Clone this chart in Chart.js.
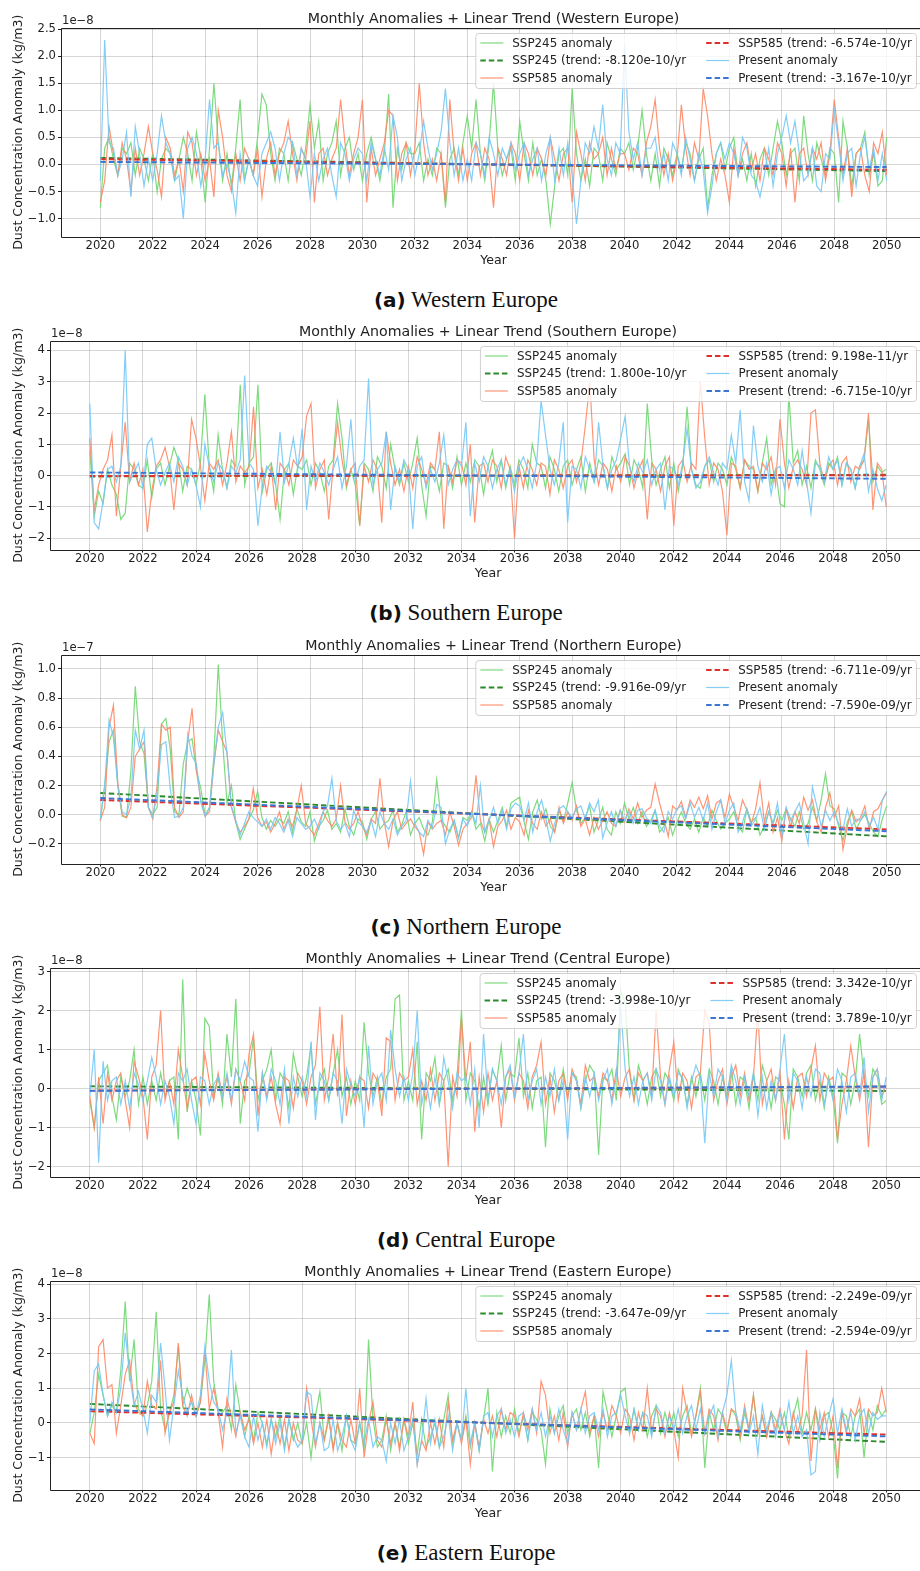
<!DOCTYPE html>
<html>
<head>
<meta charset="utf-8">
<title>Monthly dust concentration anomalies</title>
<script src="https://cdn.jsdelivr.net/npm/chart.js@4.4.1/dist/chart.umd.min.js"></script>
<style>
  html, body { margin: 0; padding: 0; background: #fff; overflow: hidden; }
  #page { position: relative; width: 920px; height: 1571px; overflow: hidden; }
  .panel { position: absolute; left: 0; }
  .caption {
    position: absolute; left: 0; width: 932px; text-align: center;
    font-family: "Liberation Serif", serif; font-size: 23px; line-height: 24px; color: #111;
  }
  .caption b { font-family: "DejaVu Sans", sans-serif; font-size: 20px; }
</style>
</head>
<body>
<div id="page"></div>
<script>
// Anomalies in ug/m3 (1e-9 kg/m3), one value every two months from Jan 2020 to Jan 2050
const firstYear = 2020;
const lastYear = 2050;
const midYear = 2035;
const sampleStep = 1 / 6;
const slopeSpan = 10;   // years covered by one unit of the quoted slope

const yearTicks = [2020, 2022, 2024, 2026, 2028, 2030, 2032, 2034, 2036, 2038, 2040, 2042, 2044, 2046, 2048, 2050];

// ---- Western Europe ----
const westSsp245 = [
  -8, 3, 5, 1, -2, 3,  2, 4, -2, 3, 1, -3,  2, -5, 1, 3, 2, -3,  1, 5, 2, -3, 6, 1,
  -7, 3, 15, 4, -3, 2,  -4, 3, 12, -3, 1, -2,  5, 13, 11, 2, -3, 3,  2, -3, 4, 1, -2, 3,
  11, 3, 8, -3, 2, 4,  8, -2, 3, 5, -1, 2,  -3, 2, 5, 1, -3, 2,  13, -8, 3, -1, 4, 2,
  2, 4, -3, 1, -2, 3,  2, -8, 1, 3, -2, 4,  9, 3, 12, 2, -3, 4,  15, 3, -2, 1, 3, -3,
  8, 2, -3, 4, -2, 1,  -3, -11, -4, 2, 3, -2,  14, 2, -3, 1, -4, 3,  2, -3, 4, 1, -2, 3,
  2, 4, -1, 3, 10, 2,  -3, 2, -4, 3, 1, -2,  2, -1, 4, 2, -3, 1,  3, -8, -2, 2, 4, -1,
  3, 5, -2, 1, -3, 2,  -4, 1, 3, -2, 3, 8,  4, -2, 2, 3, -3, 9,  2, -3, 4, 1, -2, 3,
  2, -7, 8, 3, -4, 2,  3, 6, -2, 2, -4, -3,  5
];
const westSsp585 = [
  -7, -3, 7, 2, -2, 4,  1, -5, 3, -2, 2, 7,  2, -1, -6, 5, 3, -2,  1, -5, 6, 4, -2, 2,
  -3, 1, -6, 10, 5, -2,  -5, 2, -3, 3, 1, -2,  3, -6, 1, 4, -2, 2,  4, 8, 2, -3, 3, 1,
  8, -7, 2, 3, -2, 1,  3, 12, 4, -2, 2, 5,  12, -7, 3, -2, 1, 4,  10, 9, -3, 2, 4, -2,
  3, 15, 4, -2, 1, -3,  2, -7, 12, 2, -3, 3,  -3, 2, 4, -2, 3, 1,  -8, 3, 1, -2, 4, 2,
  -3, 4, 2, -2, 3, 1,  -2, 5, 1, -3, 2, 3,  -7, 6, 2, -3, 4, 1,  2, 5, -2, 3, -1, 2,
  2, -1, 3, 2, -2, 4,  7, 12, 3, -2, 2, -3,  1, 11, 3, -2, 4, 1,  14, 9, 2, -3, 1, -2,
  -7, 3, -2, 2, 4, -1,  2, -3, 3, 1, -2, 4,  2, -4, 3, -7, 2, 3,  -2, 3, 1, 4, -3, 2,
  12, 5, -2, 3, -6, 2,  3, -2, -5, 4, 2, 6,  -2
];
const westPresent = [
  -3, 23, 4, 3, -2, 1,  6, -6, 7, 2, -4, 1,  -3, 2, 9, 4, 2, -3,  -2, -10, 3, 5, 2, -4,
  1, 12, 3, 4, -2, 0,  -3, -9, 2, -3, 1, -2,  -4, 2, 4, 6, 3, -3,  2, 5, 4, -2, 3, 1,
  -6, 2, -3, 1, 3, -2,  -6, 4, 2, -3, 1, 3,  2, -3, 4, 1, -2, 3,  -1, 9, 5, -3, 1, 3,
  -2, 2, 8, 3, -1, 2,  6, 14, 4, -2, 3, -3,  1, -3, 4, 2, -2, 5,  2, -2, 3, 1, 4, -1,
  2, 4, -2, 1, 3, -3,  2, 5, -3, 3, -2, 4,  -2, -11, -3, 4, 2, 7,  3, 11, 1, -2, 4, 2,
  22, 6, 1, 4, -2, 3,  3, 5, -1, 2, -3, 4,  2, -2, 5, 1, -3, 2,  -1, -9, -4, 2, 4, 1,
  4, 2, -2, 5, 3, -2,  -3, -6, -2, 3, -4, 2,  5, 9, 4, 8, 2, -3,  -2, 3, -4, -5, 2, 1,
  10, 4, -3, 2, 3, -4,  2, 5, -1, 3, -3, 2,  -3
];
const westSlopes = [-8.120e-10, -6.574e-10, -3.167e-10];
const westTicks = [-1.0, -0.5, 0.0, 0.5, 1.0, 1.5, 2.0, 2.5];

// ---- Southern Europe ----
const southSsp245 = [
  8, -13, -5, -9, 2, -3,  -6, -14, -12, 4, 2, -3,  -4, 5, -7, 2, 4, -3,  3, 9, 5, -5, 3, 2,
  -3, 4, 26, 3, -5, 13,  2, -4, 5, 3, 29, -3,  4, 6, 29, -5, 2, 4,  -3, -14, 2, 4, -6, 3,
  2, 5, -3, 4, 1, -5,  3, 5, 23, 12, -4, 2,  -3, -16, 4, 2, -5, 6,  3, -4, 10, 2, -3, 4,
  -2, 4, 12, -3, -13, 3,  2, -5, 4, 3, -4, 6,  -3, 4, -2, 5, 3, -6,  3, 8, -2, 5, -4, 3,
  -3, 5, 2, -4, 10, 4,  3, -4, 6, 2, -5, 3,  5, -3, 2, 6, -5, 4,  -2, 5, 3, -4, 6, 2,
  4, 7, -3, 5, 2, -4,  23, 5, -3, 2, 6, -4,  4, -5, 3, 22, 2, -3,  -4, 3, 5, -2, 4, 2,
  -3, 6, 2, -4, 5, 3,  2, -5, 4, 12, -3, 2,  -9, -10, 26, 4, 8, -3,  3, -4, 5, 2, -3, 4,
  2, 6, -3, 4, 2, -4,  3, 5, 18, -2, 3, 1,  2
];
const southSsp585 = [
  12, -11, -3, 2, 5, 13,  -13, 3, 17, -2, 4, -3,  2, -18, -5, 3, 5, 9,  3, -11, 4, 2, -3, 18,
  12, 3, -8, 4, 2, 5,  -3, 4, 14, -2, 3, 1,  3, 22, -4, 2, -6, 3,  -11, 4, 2, -3, 5, 3,
  6, 19, 23, -4, 2, 5,  -14, 3, 17, 5, -3, 2,  4, -16, 3, -2, 5, 2,  -15, 14, 4, -3, 2, -5,
  3, -4, 6, 2, -3, 4,  2, 14, -17, 3, -2, 5,  4, -3, 10, -15, 3, 4,  -2, 5, 3, -4, 6, 2,
  -20, 3, -4, 5, 2, -3,  4, 3, -6, 5, 2, -4,  3, 5, -2, 4, 16, 30,  5, -3, 4, 2, -5, 3,
  -2, 6, 3, -4, 2, 5,  -14, 4, 2, -5, 3, 6,  -16, 3, 5, -2, 4, 2,  30, 12, -3, 4, 2, -5,
  -19, 4, 3, -4, 5, 2,  3, -5, 4, 2, 6, -3,  18, 4, -4, 3, 5, 2,  -3, 20, 21, 4, -2, 3,
  5, -3, 4, 6, -2, 3,  2, 5, 20, -11, 4, 2,  -10
];
const southPresent = [
  23, -15, -17, -8, 2, 3,  -2, 3, 40, -2, 1, 4,  -4, 10, 12, 2, -3, 1,  4, -2, 6, 3, -3, 2,
  -3, -10, 10, 3, -2, 4,  2, -4, 3, 1, 5, 32,  4, 2, -16, -3, 3, 1,  -3, 14, -2, 4, 12, 2,
  15, -11, 3, -2, 4, 1,  -3, 2, 6, -4, 3, 18,  -2, 3, 5, 31, -3, 2,  4, 14, -11, 3, -2, 5,
  2, -17, 3, 6, -4, 2,  -2, 4, 13, -3, 2, 5,  3, 17, -13, 4, -2, 6,  3, -4, 2, 5, -3, 2,
  -5, 3, 6, 2, -4, 4,  24, 13, 2, -3, 4, 17,  -15, 3, 2, -4, 6, 2,  -2, 17, 3, -4, 2, 5,
  12, 19, 3, -2, 4, 1,  5, -3, 2, 4, -11, 3,  2, -3, 4, 15, 2, -4,  -2, 3, 6, 1, -3, 4,
  2, 13, 4, 21, -2, -8,  16, 3, -2, 4, -6, 2,  3, -4, 5, 2, -3, 8,  -2, -12, 4, 3, -2, 6,
  2, 5, -3, 4, 2, -4,  3, 7, -5, 2, -4, -8,  -3
];
const southSlopes = [1.800e-10, 9.198e-11, -6.715e-10];
const southTicks = [-2, -1, 0, 1, 2, 3, 4];

// ---- Northern Europe ----
const northSsp245 = [
  -4, 20, 50, 58, 20, -1,  -2, 30, 88, 50, 42, 5,  0, 5, 62, 66, 45, 2,  0, 35, 50, 52, 30, 18,
  -1, 5, 40, 103, 50, 8,  20, -5, -17, -10, -3, 3,  16, -2, -10, -4, -8, -3,  -6, 2, -12, 4, -5, -8,
  2, -18, -8, -4, 3, -10,  -6, -12, 4, -8, -14, -3,  -5, -17, -3, 2, -10, -6,  -4, 3, -12, -7, 2, -14,
  -6, -2, -10, -14, -5, 24,  -3, -8, -12, -4, -16, -2,  -4, 2, -10, -6, -18, -3,  -12, -4, 5, -8, 8, 10,
  12, -5, -17, 2, 10, -3,  4, -8, -12, 3, -5, 8,  22, 3, -6, -2, 6, -12,  -4, 5, -10, -14, 2, -6,
  8, -3, 5, -6, 2, -8,  -4, 3, -12, -8, -2, -14,  -5, 2, -6, -10, -3, -12,  -2, -8, 3, -4, -10, -6,
  -3, 2, -8, -12, 4, -5,  -2, -14, -8, 2, -6, 3,  -4, 4, -3, -8, 2, -10,  -6, 5, -4, 10, 28, 6,
  4, -8, -18, -5, 2, -10,  -4, 0, -6, -12, -15, -3,  6
];
const northSsp585 = [
  -4, 5, 60, 75, 22, 0,  -2, 5, 40, 45, 50, 5,  -3, 20, 62, 58, 60, 5,  -2, 2, 50, 73, 30, 10,
  -1, 2, 35, 58, 50, 43,  5, -5, -12, -8, -3, 18,  -2, -8, -5, -12, -6, 2,  -10, -3, -8, 4, 20, -6,
  -10, -14, -6, 2, -4, -8,  -3, 20, -5, -10, -6, 2,  -8, -14, -3, -6, 25, -5,  -22, -4, 2, -10, -6, -3,
  -8, -12, -27, -5, -10, -6,  -4, -14, 2, -8, -21, -10,  -6, -2, 27, -4, -12, -3,  -22, -8, -4, 3, -10, -2,
  -5, -14, 3, -6, -10, 2,  -8, -3, -12, 5, -6, 2,  -4, 6, -8, -3, -14, -2,  -10, -4, 2, -6, -8, 3,
  -5, 4, -3, 8, -2, 3,  5, 21, 8, -3, -15, 6,  3, 9, -2, 10, 5, 12,  4, 13, -3, 8, 10, -2,
  14, 5, -4, 10, 3, -6,  4, 22, -5, 8, -12, -2,  -18, 4, -8, 2, -6, 12,  3, 10, -5, -12, 5, 15,
  -2, 6, -24, -8, 3, -5,  -2, 6, -10, 2, 4, 10,  15
];
const northPresent = [
  -3, 20, 65, 53, 20, 2,  0, 12, 58, 45, 58, 5,  -2, 15, 48, 50, 18, -2,  -1, 5, 55, 40, 35, 8,
  -1, 5, 35, 60, 70, 42,  6, -4, -14, -6, 2, -2,  -5, -8, -3, -10, -2, -6,  -12, -4, -15, -2, -6, -10,
  -8, -3, -10, 2, 6, 25,  -4, -10, -6, -15, 3, -5,  -8, -12, -4, -15, 2, -6,  -10, -3, -14, -8, -4, 23,
  -6, -12, -15, -4, -9, 7,  5, -20, -10, -4, -16, -3,  -8, 2, -6, 20, -12, -4,  5, -6, 3, -10, 4, 8,
  6, -4, 8, -12, 2, 10,  -3, -18, -6, 4, 6, 2,  -2, 4, 6, -3, 8, 2,  10, -16, -6, 2, -8, 3,
  -4, 2, -6, 3, 4, -2,  -6, 3, -8, -12, 2, -3,  4, 6, -3, 8, -2, 5,  -4, 8, -10, 2, 10, -6,
  3, 8, -12, -5, 4, -8,  -3, 5, -10, 2, -6, 8,  -15, 5, -4, 2, 8, -6,  -20, 19, 6, -8, 3, -4,
  2, -6, -10, 4, -8, -3,  -4, 2, -8, -2, -10, 10,  16
];
const northSlopes = [-9.916e-9, -6.711e-9, -7.590e-9];
const northTicks = [-0.2, 0.0, 0.2, 0.4, 0.6, 0.8, 1.0];

// ---- Central Europe ----
const centralSsp245 = [
  -3, -10, 2, 4, 6, -2,  -8, 3, -2, 2, 10, -4,  3, -4, 2, -3, 4, -2,  2, 3, -13, 28, -6, 2,
  -3, -12, 18, 16, -2, 3,  -4, 14, 3, 23, -9, 2,  4, 13, -3, 2, 5, 10,  -3, 4, 2, -5, 9, 3,
  -2, 3, 11, -4, 2, 5,  -3, 4, 10, -2, 3, -4,  2, -3, 17, 4, -2, 3,  -4, 3, 5, 23, 24, -3,
  2, -3, 12, -13, 4, 2,  8, -4, 2, 5, -3, 3,  20, -3, 4, 2, -5, 3,  -4, 5, 2, 11, -3, 4,
  3, 13, -2, 4, -5, 2,  3, -15, 4, 2, -3, 5,  -2, 4, 3, -5, 2, 6,  4, -17, 3, 2, 5, -3,
  25, 22, 4, -3, 6, 2,  -4, 3, 5, -2, 4, 2,  -3, 5, 2, -4, 3, -2,  4, -3, 5, 2, -4, 3,
  -2, 5, -4, 3, 2, -5,  4, -3, 6, 2, -5, 3,  2, -4, -13, 5, 3, -2,  4, 6, -3, 2, -5, 3,
  -2, -14, 4, 3, -4, 2,  14, 3, -2, 5, 3, -4,  -3
];
const centralSsp585 = [
  -2, -10, 3, -9, 4, -3,  2, 4, -3, -10, 7, 3,  -2, -13, 3, 6, 20, -3,  2, -4, 10, 3, -5, 2,
  3, -4, 9, 2, -3, 4,  -2, 3, -4, 5, 2, -3,  9, 14, -7, 4, -2, 3,  -4, -9, 3, 2, -5, 4,
  2, -4, 3, 6, 21, -3,  3, 14, -2, 19, -7, 2,  -4, 3, 2, -5, 4, 2,  -7, 13, 12, -3, 4, 2,
  3, 10, -4, 2, -3, 5,  -3, 4, 2, -20, 3, -2,  18, 2, 12, -11, 3, -6,  4, -3, 2, -10, 3, 5,
  -3, 4, 2, -5, 3, 6,  12, -4, 3, -6, 2, 4,  -3, 5, 2, -4, 6, 2,  3, -2, 4, 2, -3, 5,
  -2, 3, 5, -3, 4, 2,  4, -2, 20, 3, -4, 5,  12, -3, 4, 2, -5, 3,  4, 20, 17, -3, 2, 5,
  -4, 3, 6, -2, 4, -3,  3, 20, -4, 2, 5, -3,  4, -13, 2, -5, 3, 4,  -2, 5, 11, -3, 4, 2,
  3, -13, -4, 2, 11, 3,  -3, 4, -15, 3, 5, -2,  1
];
const centralPresent = [
  -2, 10, -19, 7, -3, 2,  3, -4, 2, -5, 4, 1,  -3, 2, 8, 3, -4, 2,  -2, -9, 4, 2, 5, -3,
  -9, 3, 2, -4, 1, 3,  -2, 4, -3, 5, 2, 7,  3, 2, -11, 4, -3, 5,  2, -4, 5, -9, 3, -2,
  3, -2, 12, -8, 4, 2,  -3, 4, 2, -9, 5, 1,  -2, 3, -10, 11, -4, 2,  4, -3, 15, 5, -2, 3,
  -3, 4, 20, -4, 2, -5,  3, -4, 8, 2, -5, 4,  2, 3, -4, 5, -10, 14,  -3, 5, 2, -4, 3, 6,
  -2, 4, 14, -3, 2, 5,  -4, 3, -2, 5, -3, 2,  -13, 4, 2, -5, 3, -2,  4, -3, 2, 5, -4, 3,
  21, 5, -2, 3, -4, 2,  4, -3, 5, 2, -4, 3,  -2, 4, 3, -5, 2, 6,  3, -14, 4, -2, 5, 3,
  -3, 6, 2, -4, 3, -2,  4, -7, 3, -5, 2, -3,  5, 14, -3, 4, 2, -5,  3, -2, 5, 4, -4, 2,
  -3, 5, 2, -6, 3, 4,  -2, 8, -6, 3, 5, -3,  3
];
const centralSlopes = [-3.998e-10, 3.342e-10, 3.789e-10];
const centralTicks = [-2, -1, 0, 1, 2, 3];

// ---- Eastern Europe ----
const eastSsp245 = [
  -3, 3, 14, 8, 2, 5,  3, 15, 35, 12, 24, 4,  2, 5, 12, 32, 4, -2,  3, 8, 22, 5, 10, 6,
  2, 6, 18, 37, 12, 4,  3, 5, -2, 11, 3, -4,  2, -5, 3, 0, -6, 1,  -4, 2, -7, 1, -5, 0,
  -6, 0, -10, 2, 9, -5,  1, -7, 0, -8, 2, -5,  -6, 0, -8, 24, 1, -7,  -5, 2, -8, 0, -7, 1,
  -6, 0, -9, 1, -7, -4,  0, -7, 1, 8, -6, 0,  -5, 2, -7, 0, -8, 1,  10, -14, 3, -4, 2, -3,
  4, -3, 2, -5, 3, 1,  -2, -12, 4, -3, 2, 5,  -3, 2, 4, -2, 3, -4,  2, -13, 9, 3, -4, 2,
  9, 10, -3, 4, -2, 3,  -4, 2, 5, -3, 3, -2,  3, -4, 2, 5, -3, 2,  10, -13, 3, -2, 4, 2,
  -3, 4, 2, -5, 3, -2,  8, -3, 2, -4, 3, 1,  -2, 3, -4, 2, 7, -3,  3, -2, 4, -5, 2, 3,
  -3, -16, 3, 2, -4, 2,  4, -10, 3, -2, 5, 2,  4
];
const eastSsp585 = [
  -3, -6, 22, 24, 10, 11,  -3, 5, 14, 18, 6, 3,  2, 12, 5, 4, 18, -3,  3, 6, 23, 5, 2, 8,
  2, 6, 21, 4, 10, 3,  -7, 7, 2, -4, 3, -2,  1, -6, 0, -7, 1, -9,  0, -6, 1, -8, 0, -5,
  -6, 10, 1, -7, 0, -5,  2, -8, 0, -5, -7, 1,  -6, 10, -10, 0, 6, -5,  -7, 1, -6, 0, -8, 1,
  -4, 6, -12, -5, -8, 0,  -6, 1, -7, 6, -5, 0,  -6, 1, -12, 0, -7, 1,  -3, 2, -4, 4, -2, 3,
  2, -4, 3, -2, 4, -3,  12, 8, -3, 2, -5, 3,  -7, 3, -2, 4, 9, -3,  2, -4, 3, -2, 5, 2,
  -3, 4, 2, -5, 3, -2,  10, -3, 4, 2, -4, 3,  -2, -10, 10, 3, -4, 2,  9, -3, 4, 2, -5, 3,
  -2, 4, 3, -4, 5, -2,  8, -3, 2, -4, 3, -2,  4, -2, -6, 3, -3, 2,  21, -11, 4, -2, 3, -4,
  2, -13, 3, -3, 4, 2,  7, -3, 4, 2, 3, 10,  3
];
const eastPresent = [
  0, 15, 17, 8, 2, 6,  3, 10, 26, 14, 5, 9,  4, -3, 8, 6, 23, 10,  -5, 5, 15, 8, 3, 6,
  2, 8, 22, 12, 6, 4,  -2, 3, 21, -3, 2, -4,  -7, 2, -5, 0, -7, 1,  -6, 0, -8, 1, -4, -7,
  -5, 9, 8, -6, 0, -8,  -7, 1, -8, -4, 2, -5,  -8, 0, -6, 1, -7, -4,  -5, -11, 0, -6, 1, -8,
  -4, 1, -12, -5, 7, -6,  1, -7, -4, 2, -8, 0,  -5, 10, -6, 0, -8, 2,  3, -4, 2, 4, -3, 1,
  -4, 2, 3, -5, 4, -2,  3, -4, 2, -3, 4, -2,  -6, 3, -2, 4, -3, 2,  3, -2, 4, -4, 2, 3,
  8, 2, -3, 4, -2, 3,  2, -4, 5, 3, -3, 2,  -2, 4, -3, 2, 5, -2,  4, -3, 2, 5, -4, 3,
  8, 18, 3, -2, 4, -3,  2, -9, 5, -2, 3, -4,  3, -2, 6, -3, 2, -4,  -2, -15, -14, 3, -4, 2,
  7, -3, 4, -2, 3, -5,  2, 4, -3, 3, 1, 2,  2
];
const eastSlopes = [-3.647e-9, -2.249e-9, -2.594e-9];
const eastTicks = [-1, 0, 1, 2, 3, 4];

const panels = [
  { tag: 'a', region: 'Western Europe', exponent: -8, yMin: -1.33, yMax: 2.52, ticks: westTicks, decimals: 1, axisWidth: 61,
    series: [westSsp245, westSsp585, westPresent], slopes: westSlopes },
  { tag: 'b', region: 'Southern Europe', exponent: -8, yMin: -2.36, yMax: 4.3, ticks: southTicks, decimals: 0, axisWidth: 50,
    series: [southSsp245, southSsp585, southPresent], slopes: southSlopes },
  { tag: 'c', region: 'Northern Europe', exponent: -7, yMin: -0.335, yMax: 1.095, ticks: northTicks, decimals: 1, axisWidth: 61,
    series: [northSsp245, northSsp585, northPresent], slopes: northSlopes },
  { tag: 'd', region: 'Central Europe', exponent: -8, yMin: -2.25, yMax: 3.09, ticks: centralTicks, decimals: 0, axisWidth: 50,
    series: [centralSsp245, centralSsp585, centralPresent], slopes: centralSlopes },
  { tag: 'e', region: 'Eastern Europe', exponent: -8, yMin: -1.92, yMax: 4.09, ticks: eastTicks, decimals: 0, axisWidth: 50,
    series: [eastSsp245, eastSsp585, eastPresent], slopes: eastSlopes }
];

const scenarios = [
  { name: 'SSP245', line: 'rgba(112, 214, 112, 0.9)', trend: '#2b8a2b' },
  { name: 'SSP585', line: 'rgba(255, 136, 102, 0.9)', trend: '#e0302c' },
  { name: 'Present', line: 'rgba(118, 200, 246, 0.9)', trend: '#3a76d4' }
];

const ink = '#222';
const gridColor = 'rgba(0, 0, 0, 0.16)';
const sans = '"DejaVu Sans", sans-serif';
const tickFont = { family: sans, size: 11.6 };
const labelFont = { family: sans, size: 12.6 };
const legendSize = 11.9;
const panelPitch = 313.3;
const canvasW = 930, canvasH = 272;

const minus = s => s.replace('-', '\u2212');

// python-style exponent: 9.198e-11, -9.916e-09
function slopeLabel(v) {
  return v.toExponential(3).replace(/e([+-])(\d)$/, 'e$10$2');
}

function buildDatasets(p) {
  const perUnit = Math.pow(10, p.exponent + 9);   // ug/m3 in one axis unit
  const unit = Math.pow(10, p.exponent);
  const sets = [];
  scenarios.forEach((s, k) => {
    sets.push({
      label: s.name + ' anomaly',
      data: p.series[k].map((v, j) => ({ x: firstYear + j * sampleStep, y: v / perUnit })),
      borderColor: s.line, borderWidth: 1.2, pointRadius: 0, order: 6 - 2 * k
    });
    sets.push({
      label: `${s.name} (trend: ${slopeLabel(p.slopes[k])}/yr`,
      data: [firstYear, lastYear].map(t => ({ x: t, y: p.slopes[k] * (t - midYear) / slopeSpan / unit })),
      borderColor: s.trend, borderWidth: 1.9, borderDash: [5.5, 3], pointRadius: 0, order: 5 - 2 * k
    });
  });
  return sets;
}

// two-column legend in the upper right of the plot
function drawLegend(chart) {
  const ctx = chart.ctx, area = chart.chartArea;
  const sets = chart.data.datasets;
  ctx.font = `${legendSize}px ${sans}`;
  const cols = [sets.slice(0, 3), sets.slice(3, 6)];
  const handle = 23, textGap = 9, colGap = 20, padL = 5, padR = 4, rowH = 17.5;
  const colW = cols.map(c => handle + textGap + Math.max(...c.map(d => ctx.measureText(d.label).width)));
  const boxW = padL + colW[0] + colGap + colW[1] + padR;
  const boxH = 55;
  const right = area.right - 10, top = area.top + 5, left = right - boxW;

  ctx.beginPath();
  ctx.roundRect(left + 0.5, top + 0.5, boxW, boxH, 3);
  ctx.fillStyle = 'rgba(255, 255, 255, 0.8)';
  ctx.fill();
  ctx.strokeStyle = '#d0d0d0';
  ctx.lineWidth = 1;
  ctx.stroke();

  let x = left + padL;
  cols.forEach((c, ci) => {
    c.forEach((d, ri) => {
      const y = top + 10 + ri * rowH;
      ctx.save();
      ctx.strokeStyle = d.borderColor;
      ctx.lineWidth = d.borderWidth;
      ctx.setLineDash(d.borderDash || []);
      ctx.beginPath();
      ctx.moveTo(x, y);
      ctx.lineTo(x + handle, y);
      ctx.stroke();
      ctx.restore();
      ctx.fillStyle = ink;
      ctx.textAlign = 'left';
      ctx.textBaseline = 'middle';
      ctx.fillText(d.label, x + handle + textGap, y + 0.5);
    });
    x += colW[ci] + colGap;
  });
}

const panelDecor = {
  id: 'panelDecor',
  afterDraw(chart, args, opts) {
    const { ctx, chartArea: a } = chart;
    ctx.save();
    // axes frame: left, top and bottom spines
    const l = Math.round(a.left) + 0.5, t = Math.round(a.top) + 0.5, b = Math.round(a.bottom) + 0.5;
    ctx.strokeStyle = ink;
    ctx.lineWidth = 1;
    ctx.beginPath();
    ctx.moveTo(a.right, t);
    ctx.lineTo(l, t);
    ctx.lineTo(l, b);
    ctx.lineTo(a.right, b);
    ctx.stroke();

    ctx.fillStyle = ink;
    ctx.font = `14.2px ${sans}`;
    ctx.textAlign = 'center';
    ctx.textBaseline = 'middle';
    ctx.fillText(opts.title, (a.left + a.right) / 2, 19.5);

    ctx.font = `${tickFont.size}px ${sans}`;
    ctx.textAlign = 'left';
    ctx.textBaseline = 'alphabetic';
    ctx.fillText(opts.offset, a.left + 1, a.top - 4);

    drawLegend(chart);
    ctx.restore();
  }
};

const page = document.getElementById('page');

panels.forEach((p, i) => {
  const canvas = document.createElement('canvas');
  canvas.className = 'panel';
  canvas.width = canvasW;
  canvas.height = canvasH;
  canvas.style.top = (panelPitch * i) + 'px';
  page.appendChild(canvas);

  const cap = document.createElement('div');
  cap.className = 'caption';
  cap.style.top = (301 + panelPitch * i - 13) + 'px';
  cap.innerHTML = `<b>(${p.tag})</b> ${p.region}`;
  page.appendChild(cap);

  new Chart(canvas, {
    type: 'line',
    data: { datasets: buildDatasets(p) },
    plugins: [panelDecor],
    options: {
      responsive: false,
      animation: false,
      devicePixelRatio: 1,
      events: [],
      layout: { padding: { top: 28, right: 4, left: 0, bottom: 0 } },
      elements: { line: { tension: 0 } },
      plugins: {
        legend: { display: false },
        tooltip: { enabled: false },
        panelDecor: {
          title: `Monthly Anomalies + Linear Trend (${p.region})`,
          offset: minus('1e-' + (-p.exponent))
        }
      },
      scales: {
        x: {
          type: 'linear',
          min: 2018.5,
          max: 2051.5,
          afterBuildTicks: s => { s.ticks = yearTicks.map(v => ({ value: v })); },
          afterFit: s => { s.height = 35.5; s.paddingLeft = 0; s.paddingRight = 0; },
          ticks: { font: tickFont, color: ink, padding: 0, maxRotation: 0, autoSkip: false, callback: v => String(v) },
          grid: { color: gridColor, lineWidth: 1, tickLength: 3, tickColor: ink },
          border: { display: false },
          title: { display: true, text: 'Year', font: labelFont, color: ink, padding: { top: 0, bottom: 4 } }
        },
        y: {
          min: p.yMin,
          max: p.yMax,
          afterBuildTicks: s => { s.ticks = p.ticks.map(v => ({ value: v })); },
          afterFit: s => { s.width = p.axisWidth; },
          ticks: { font: tickFont, color: ink, padding: 2, callback: v => minus(v.toFixed(p.decimals)) },
          grid: { color: gridColor, lineWidth: 1, tickLength: 3, tickColor: ink },
          border: { display: false },
          title: { display: true, text: 'Dust Concentration Anomaly (kg/m3)', font: labelFont, color: ink, padding: { top: 11, bottom: 0 } }
        }
      }
    }
  });
});
</script>
</body>
</html>
